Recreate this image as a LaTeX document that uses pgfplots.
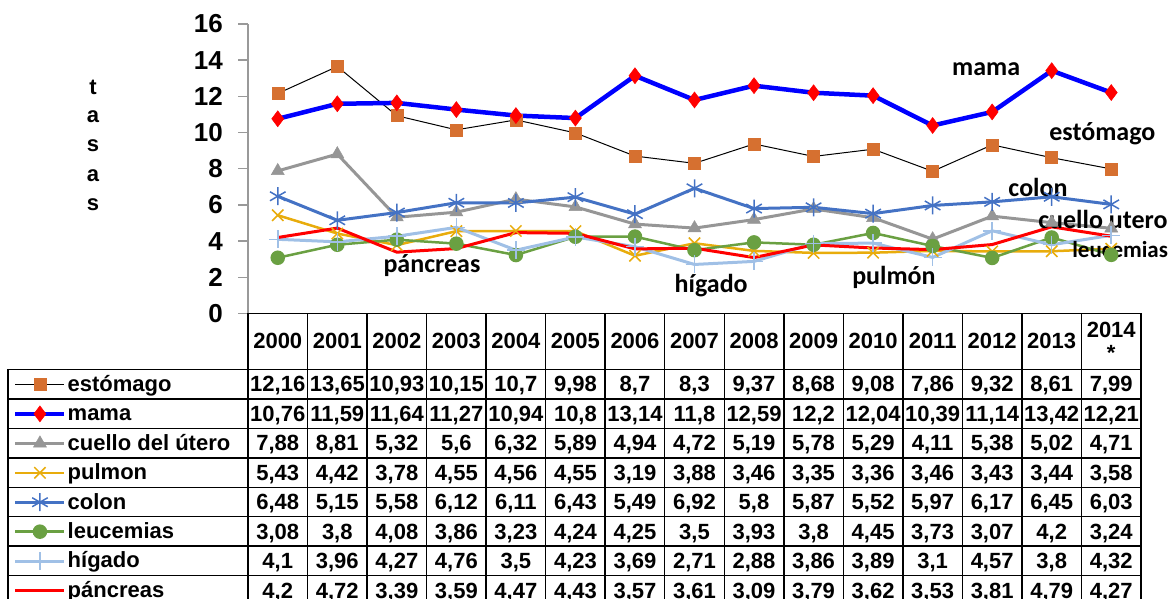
\documentclass[border=0pt]{standalone}
\usepackage{fontspec}
\setmainfont{Liberation Sans}
\newfontfamily\carlito{Carlito}
\usepackage{pgfplots}
\usepackage{pgfplotstable}
\pgfplotsset{compat=1.18}
\definecolor{cEst}{RGB}{214,112,48}
\definecolor{cMama}{RGB}{0,0,255}
\definecolor{cMamaM}{RGB}{255,0,0}
\definecolor{cCue}{RGB}{150,150,150}
\definecolor{cPul}{RGB}{232,172,12}
\definecolor{cCol}{RGB}{68,114,196}
\definecolor{cLeu}{RGB}{106,160,66}
\definecolor{cHig}{RGB}{160,192,230}
\definecolor{cPan}{RGB}{255,0,0}

\pgfplotstableread{
x  est   mama  cue  pul  col  leu  hig  pan
0  12.16 10.76 7.88 5.43 6.48 3.08 4.10 4.20
1  13.65 11.59 8.81 4.42 5.15 3.80 3.96 4.72
2  10.93 11.64 5.32 3.78 5.58 4.08 4.27 3.39
3  10.15 11.27 5.60 4.55 6.12 3.86 4.76 3.59
4  10.70 10.94 6.32 4.56 6.11 3.23 3.50 4.47
5  9.98  10.80 5.89 4.55 6.43 4.24 4.23 4.43
6  8.70  13.14 4.94 3.19 5.49 4.25 3.69 3.57
7  8.30  11.80 4.72 3.88 6.92 3.50 2.71 3.61
8  9.37  12.59 5.19 3.46 5.80 3.93 2.88 3.09
9  8.68  12.20 5.78 3.35 5.87 3.80 3.86 3.79
10 9.08  12.04 5.29 3.36 5.52 4.45 3.89 3.62
11 7.86  10.39 4.11 3.46 5.97 3.73 3.10 3.53
12 9.32  11.14 5.38 3.43 6.17 3.07 4.57 3.81
13 8.61  13.42 5.02 3.44 6.45 4.20 3.80 4.79
14 7.99  12.21 4.71 3.58 6.03 3.24 4.32 4.27
}\data

\newcommand{\tabfont}{\bfseries\fontsize{22}{26}\selectfont}
\newcommand{\annfont}{\carlito\bfseries\fontsize{26}{30}\selectfont}
\newcommand{\trow}[2]{\foreach \v [count=\i from 0] in {#2} {\node[font=\tabfont, anchor=base, inner sep=0pt] at ({248+59.533*(\i+0.5)},{384.2+29.45*#1+7.8}) {\v};}}

\begin{document}
\begin{tikzpicture}
\useasboundingbox (0,0) rectangle (1173pt,599pt);
\begin{axis}[
  at={(248pt,285.5pt)}, anchor=south west,
  scale only axis, width=893pt, height=289.5pt,
  xmin=-0.5, xmax=14.5, ymin=0, ymax=16,
  axis x line=none, axis y line*=left,
  y axis line style={draw=gray!80, line width=1.5pt},
  ytick={0,2,...,16},
  tick align=outside, major tick length=10pt,
  ytick style={draw=gray!80, line width=1.5pt},
  yticklabel style={font=\bfseries\fontsize{26}{30}\selectfont, inner sep=0pt, anchor=east, xshift=-15pt},
  /pgf/number format/assume math mode=true,
  clip=false,
  legend style={at={(-0.26316,-0.19344)}, anchor=north west, draw=none, fill=none,
    inner sep=0pt, row sep=0pt, column sep=1pt, cells={anchor=west},
    nodes={inner sep=0pt, text height=21.5pt, text depth=7.95pt, font=\tabfont}},
  legend image code/.code={\draw[mark repeat=2, mark phase=2] plot coordinates {(0pt,0pt) (24.5pt,0pt) (49pt,0pt)};},
]
\addplot[black, line width=1pt, mark=square*, mark size=6pt, mark options={draw=cEst, fill=cEst, line width=0.5pt}] table[x=x,y=est]{\data};
\addlegendentry{estómago}
\addplot[cMama, line width=4.5pt, mark=diamond*, mark size=8pt, mark options={draw=cMamaM, fill=cMamaM, line width=0.5pt}] table[x=x,y=mama]{\data};
\addlegendentry{mama}
\addplot[cCue, line width=3pt, mark=triangle*, mark size=7.5pt, mark options={draw=cCue, fill=cCue, line width=0.5pt}] table[x=x,y=cue]{\data};
\addlegendentry{cuello del útero}
\addplot[cPul, line width=2.5pt, mark=x, mark size=8pt, mark options={line width=1.5pt}] table[x=x,y=pul]{\data};
\addlegendentry{pulmon}
\addplot[cCol, line width=3pt, mark=asterisk, mark size=9pt, mark options={line width=1.5pt}] table[x=x,y=col]{\data};
\addlegendentry{colon}
\addplot[cLeu, line width=2.5pt, mark=*, mark size=6pt, mark options={draw=cLeu, fill=cLeu}] table[x=x,y=leu]{\data};
\addlegendentry{leucemias}
\addplot[cHig, line width=3pt, mark=+, mark size=9pt, mark options={line width=1.5pt}] table[x=x,y=hig]{\data};
\addlegendentry{hígado}
\addplot[cPan, line width=3pt, no marks] table[x=x,y=pan]{\data};
\addlegendentry{páncreas}

\node[font=\annfont] at (axis cs:11.90,13.51) {mama};
\node[font=\annfont] at (axis cs:13.85,9.92) {estómago};
\node[font=\annfont] at (axis cs:12.77,6.99) {colon};
\node[font=\annfont] at (axis cs:13.86,5.22) {cuello utero};
\node[font=\carlito\bfseries\fontsize{23}{27}\selectfont] at (axis cs:14.15,3.51) {leucemias};
\node[font=\annfont] at (axis cs:10.35,2.02) {pulmón};
\node[font=\annfont] at (axis cs:2.59,2.63) {páncreas};
\node[font=\annfont] at (axis cs:7.28,1.52) {hígado};
\end{axis}

\begin{scope}[x=1pt, y=-1pt, yshift=599pt]
  % y label letters
  \foreach \l [count=\j from 0] in {t,a,s,a,s}
    \node[font=\bfseries\fontsize{22}{26}\selectfont, inner sep=0pt] at (93,{87+29.5*\j}) {\l};
  % grid
  \draw[line width=1.5pt] (248,313.5) -- (1141,313.5);
  \draw[line width=1.5pt] (8,369.5) -- (1141,369.5);
  \foreach \r in {1,...,8}
    \draw[line width=1.5pt] (8,{369.5+29.45*\r}) -- (1141,{369.5+29.45*\r});
  \draw[line width=1.5pt] (8,369.5) -- (8,610);
  \foreach \k in {0,...,15}
    \draw[line width=1.5pt] ({248+59.533*\k},313.5) -- ({248+59.533*\k},610);
  % header
  \foreach \yr [count=\i from 0] in {2000,2001,2002,2003,2004,2005,2006,2007,2008,2009,2010,2011,2012,2013}
    \node[font=\tabfont, anchor=base, inner sep=0pt] at ({248+59.533*(\i+0.5)},349) {\yr};
  \node[font=\tabfont, anchor=base, inner sep=0pt] at ({248+59.533*14.5},337.5) {2014};
  \node[font=\tabfont, anchor=base, inner sep=0pt] at ({248+59.533*14.5},361) {*};
  % values
  \trow{0}{{12,16},{13,65},{10,93},{10,15},{10,7},{9,98},{8,7},{8,3},{9,37},{8,68},{9,08},{7,86},{9,32},{8,61},{7,99}}
  \trow{1}{{10,76},{11,59},{11,64},{11,27},{10,94},{10,8},{13,14},{11,8},{12,59},{12,2},{12,04},{10,39},{11,14},{13,42},{12,21}}
  \trow{2}{{7,88},{8,81},{5,32},{5,6},{6,32},{5,89},{4,94},{4,72},{5,19},{5,78},{5,29},{4,11},{5,38},{5,02},{4,71}}
  \trow{3}{{5,43},{4,42},{3,78},{4,55},{4,56},{4,55},{3,19},{3,88},{3,46},{3,35},{3,36},{3,46},{3,43},{3,44},{3,58}}
  \trow{4}{{6,48},{5,15},{5,58},{6,12},{6,11},{6,43},{5,49},{6,92},{5,8},{5,87},{5,52},{5,97},{6,17},{6,45},{6,03}}
  \trow{5}{{3,08},{3,8},{4,08},{3,86},{3,23},{4,24},{4,25},{3,5},{3,93},{3,8},{4,45},{3,73},{3,07},{4,2},{3,24}}
  \trow{6}{{4,1},{3,96},{4,27},{4,76},{3,5},{4,23},{3,69},{2,71},{2,88},{3,86},{3,89},{3,1},{4,57},{3,8},{4,32}}
  \trow{7}{{4,2},{4,72},{3,39},{3,59},{4,47},{4,43},{3,57},{3,61},{3,09},{3,79},{3,62},{3,53},{3,81},{4,79},{4,27}}
\end{scope}
\end{tikzpicture}
\end{document}
